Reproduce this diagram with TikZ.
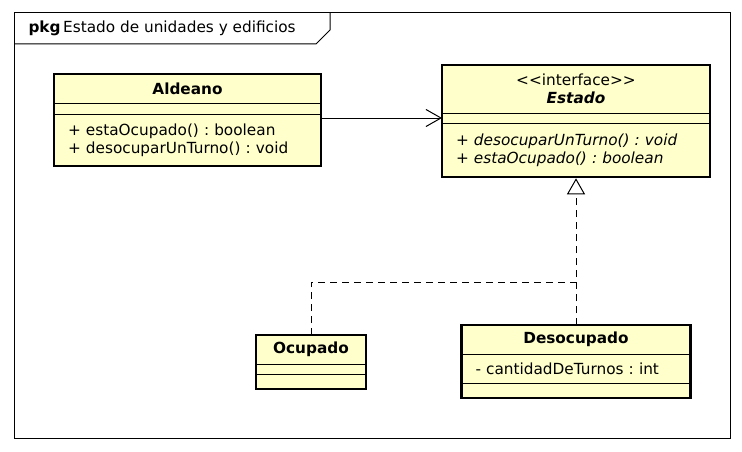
\documentclass[tikz,border=0pt]{standalone}
\usepackage{fontspec}
\setmainfont{DejaVu Sans}[Ligatures=TeXOff]
\usetikzlibrary{arrows.meta, positioning}
\frenchspacing
\newcommand{\umlsize}{\fontsize{15.3}{18}\selectfont}
\definecolor{classfill}{RGB}{255,255,204}
\tikzstyle{classname} = [rectangle, draw=black, fill=classfill, text centered, inner sep=0pt, outer sep=0pt, font=\umlsize\bfseries]
\tikzstyle{classpart} = [rectangle, draw=black, fill=classfill, inner xsep=14pt, inner ysep=0pt, outer sep=0pt, align=left, font=\umlsize]
\tikzstyle{classframe} = [draw=black, line width=2.6pt]
\tikzstyle{arrow} = [-{Straight Barb[length=15pt,width=17pt]}]
\tikzstyle{realize} = [dash pattern=on 7pt off 5pt]
\tikzstyle{inherit} = [-{Triangle[open,length=16pt,width=18pt]}, shorten >=1.3pt]

\begin{document}
\begin{tikzpicture}[x=1pt, y=-1pt, line width=1pt, font=\umlsize]
\useasboundingbox (0,0) rectangle (742,452);
% package frame
\draw (14,13) rectangle (730,438);
\draw (14,44) -- (316,44) -- (330,30) -- (330,13);
\node (pkgtitle) [anchor=west, inner sep=0pt] at (28,28.5) {\textbf{pkg}\,Estado de unidades y edificios};
% Aldeano
\node (aldeano) [classname, minimum width=267pt, minimum height=29pt] at (187.5,88.5) {Aldeano};
\node (aldeanoattr) [classpart, below=0pt of aldeano, minimum width=267pt, minimum height=11pt] {};
\node (aldeanoops) [classpart, below=0pt of aldeanoattr, text width=239pt, minimum height=52pt] {+ estaOcupado() : boolean\\+ desocuparUnTurno() : void};
\draw [classframe] (aldeano.north west) rectangle (aldeanoops.south east);
% Estado
\node (estado) [classname, align=center, minimum width=268pt, minimum height=48pt] at (576,89) {\mdseries <<interface>>\\\bfseries\itshape Estado};
\node (estadoattr) [classpart, below=0pt of estado, minimum width=268pt, minimum height=10pt] {};
\node (estadoops) [classpart, below=0pt of estadoattr, text width=240pt, minimum height=54pt, font=\umlsize\itshape] {+ desocuparUnTurno() : void\\+ estaOcupado() : boolean};
\draw [classframe] (estado.north west) rectangle (estadoops.south east);
% Ocupado
\node (ocupado) [classname, minimum width=110pt, minimum height=29pt] at (311,349.5) {Ocupado};
\node (ocupadoattr) [classpart, below=0pt of ocupado, minimum width=110pt, minimum height=10pt] {};
\node (ocupadoops) [classpart, below=0pt of ocupadoattr, minimum width=110pt, minimum height=15pt] {};
\draw [classframe] (ocupado.north west) rectangle (ocupadoops.south east);
% Desocupado
\node (desocupado) [classname, minimum width=229pt, minimum height=29pt] at (576,339.5) {Desocupado};
\node (desocupadoattr) [classpart, below=0pt of desocupado, text width=201pt, minimum height=29pt] {- cantidadDeTurnos : int};
\node (desocupadoops) [classpart, below=0pt of desocupadoattr, minimum width=229pt, minimum height=15pt] {};
\draw [classframe] (desocupado.north west) rectangle (desocupadoops.south east);
% relations
\coordinate (join) at (estadoops.south |- 0,282);
\draw [arrow] (aldeanoops.east |- estadoattr) -- (estadoattr.west);
\draw [realize, inherit] (desocupado.north) -- (estadoops.south);
\draw [realize] (ocupado.north) |- (join);
\end{tikzpicture}
\end{document}
